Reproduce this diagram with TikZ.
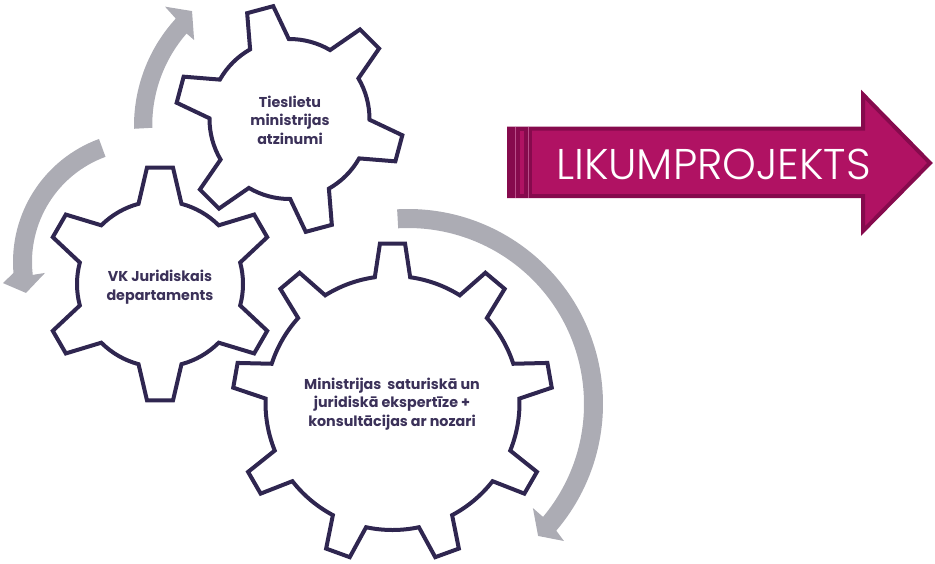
\documentclass[tikz,border=0pt]{standalone}
\usepackage{fontspec}
\setmainfont{Poppins}
\newfontfamily\lightfont{Poppins Light}
\usepackage{tikz}

\definecolor{gearcol}{HTML}{2F2650}
\definecolor{textcol}{HTML}{3B3159}
\definecolor{arccol}{HTML}{ACACB4}
\definecolor{lawcol}{HTML}{B01263}
\definecolor{lawdark}{HTML}{860A4D}
\definecolor{lawlight}{HTML}{B9508A}

% center, teeth, first tooth, outer radius, inner radius, half angles
\newcommand{\drawgear}[7]{
  \draw[gearline, shift={(#1)}] (#3-#7:#5)
    \foreach \k [evaluate=\k as \a using #3+\k*360/#2] in {1,...,#2} {
      -- (\a-360/#2-#6:#4) -- (\a-360/#2+#6:#4) -- (\a-360/#2+#7:#5)
      arc[start angle=\a-360/#2+#7, end angle=\a-#7, radius=#5]
    } -- cycle;
}

\begin{document}
\begin{tikzpicture}[x=1pt, y=1pt,
    gearline/.style = {draw=gearcol, line width=4pt, line join=miter},
    geartext/.style = {text=textcol, font=\fontsize{14.3}{18.4}\selectfont\bfseries, align=center},
    arcarrow/.style = {fill=arccol, draw=none}]
    \useasboundingbox (0,0) rectangle (935,-563);

    % gears
    \drawgear{289.5,-119}{6}{105}{114}{80}{6.8}{14.5}
    \drawgear{160,-284}{6}{90}{117}{83}{6.4}{15}
    \drawgear{392.5,-403}{9}{90}{160}{127}{4.5}{8}

    \node[geartext] (tm) at (290,-120) {Tieslietu\\ministrijas\\atzinumi};
    \node[geartext] (vk) at (160,-287) {VK Juridiskais\\departaments};
    \node[geartext] (min) at (392,-404) {Ministrijas~ saturiskā un\\juridiskā ekspertīze +\\konsultācijas ar nozari};

    % grey arrows
    \fill[arcarrow, shift={(293,-126)}] (181:159) arc[start angle=181, end angle=137.5, radius=159]
        -- (137:175) -- (131.3:153) -- (139:131) -- (139:141)
        arc[start angle=139, end angle=181, radius=140] -- cycle;
    \fill[arcarrow, shift={(144,-262)}] (110.1:131) arc[start angle=110.1, end angle=184.8, radius=131]
        -- (188.5:142.6) -- (194.7:122) -- (186.3:99.6) -- (186.6:112)
        arc[start angle=186.6, end angle=110.1, radius=112] -- cycle;
    \fill[arcarrow, shift={(408,-404)}] (93.2:195) arc[start angle=93.2, end angle=-40.5, radius=195]
        -- (-41.3:207.6) -- (-45.4:185.3) -- (-39.8:162.6) -- (-39.9:176)
        arc[start angle=-39.9, end angle=93.2, radius=176] -- cycle;

    % law arrow
    \draw[fill=lawcol, draw=lawdark, line width=4pt] (509,-128.5) -- (863,-128.5) -- (863,-94.5)
        -- (930,-163) -- (863,-231) -- (863,-196) -- (509,-196) -- cycle;
    \fill[lawdark] (507,-126.5) rectangle (532,-198);
    \fill[lawcol] (519.5,-130.5) rectangle (524,-194);
    \draw[lawlight, line width=0.7pt] (515,-126.5) -- (515,-198);
    \draw[lawlight, line width=0.7pt] (528,-126.5) -- (528,-198);
    \node[text=white, font=\lightfont\fontsize{43}{43}\selectfont, inner sep=0pt, anchor=base] (law) at (713.5,-179) {LIKUMPROJEKTS};
\end{tikzpicture}
\end{document}
